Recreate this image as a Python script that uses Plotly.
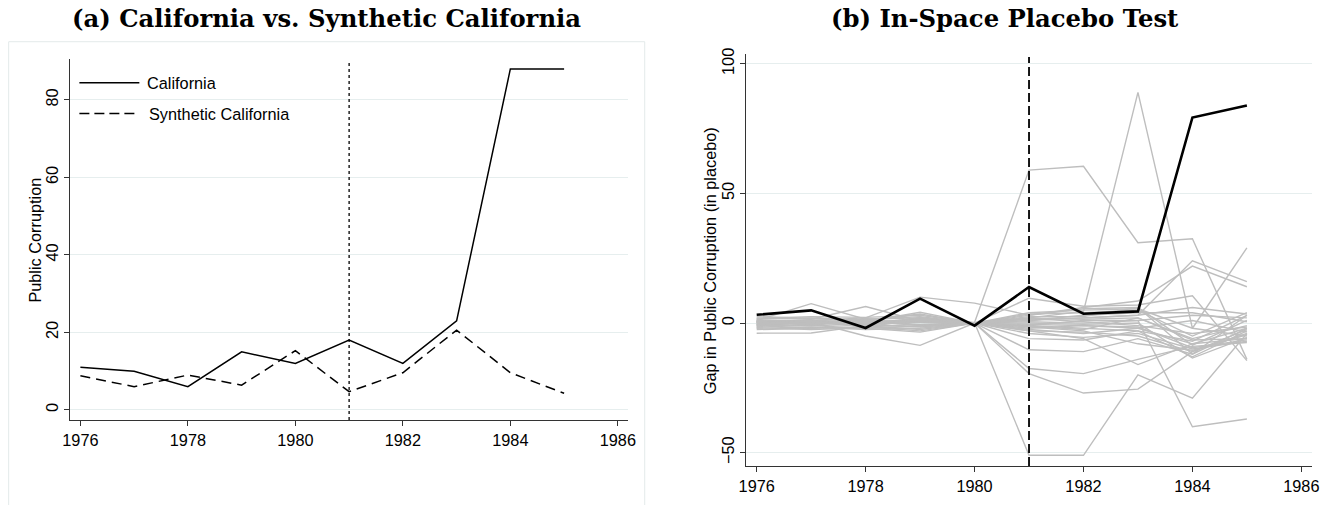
import plotly.graph_objects as go

# ---------------- data ----------------
years = [1976, 1977, 1978, 1979, 1980, 1981, 1982, 1983, 1984, 1985]
california = [11.0, 10.0, 6.0, 15.0, 12.0, 18.0, 12.0, 23.0, 88.0, 88.0]
synthetic_california = [8.8, 6.0, 9.0, 6.4, 15.3, 4.7, 9.6, 20.6, 9.6, 4.3]
california_gap = [3.2, 4.9, -1.9, 9.4, -1.0, 13.9, 3.6, 4.5, 79.3, 83.9]

placebo_gaps = [
    [0.5, 1.0, 0.3, 1.5, 0.2, 59.0, 60.5, 31.0, 32.5, -14.0],
    [-0.5, 0.8, -0.2, 0.5, 0.0, 2.0, 4.5, 89.0, -2.0, 29.0],
    [0.3, -0.5, 1.0, -1.0, 0.1, -51.0, -51.0, -20.0, -29.0, -4.0],
    [-1.0, 0.5, -0.8, 1.2, 0.0, -19.5, -27.0, -25.5, -11.0, -4.0],
    [0.8, -0.3, 0.6, -0.5, 0.0, -17.5, -19.5, -14.0, -9.0, -7.5],
    [-0.5, 0.2, -0.5, 0.8, 0.0, -10.3, -11.0, -6.0, -12.0, -2.0],
    [0.2, 0.6, -0.3, 0.4, 0.0, -1.0, 1.0, 1.0, -40.0, -37.0],
    [-3.9, -3.8, -1.0, -2.5, 0.0, 1.0, 2.0, 3.0, 24.0, 16.0],
    [1.0, 7.5, 1.5, 2.0, 0.0, 3.0, 6.0, 8.5, 22.0, 14.0],
    [2.0, 1.5, 6.4, 0.8, 0.0, 9.6, 6.5, 7.0, 10.5, -14.5],
    [0.5, 1.0, 2.0, 10.0, 7.7, 3.0, 5.5, 6.0, -12.0, 3.0],
    [-1.0, 0.5, -5.0, -8.6, 0.0, -3.0, -6.0, -16.0, -8.0, -2.0],
    [0.5, 0.3, 0.8, 0.5, 0.0, 1.5, 2.0, 3.0, 6.0, 3.5],
    [-0.5, -1.0, -0.5, -1.5, 0.0, -2.0, -1.0, -2.0, -8.0, -6.0],
    [1.5, 2.0, 1.0, 3.5, 0.0, 3.5, 4.0, 5.0, -5.0, 4.0],
    [-1.5, -1.0, -2.0, -3.5, 0.0, -4.0, -5.5, -4.0, -10.0, -7.0],
    [0.0, 0.5, 0.2, 1.0, 0.0, 0.5, 0.0, 1.0, 3.0, 2.0],
    [-2.0, -1.5, -2.5, -2.0, 0.0, -1.0, -2.0, -3.0, -13.0, -3.0],
    [1.0, 0.0, 1.5, 2.5, 0.0, 2.0, 1.5, 2.0, -6.0, -1.0],
    [-0.8, 0.2, -1.2, -0.5, 0.0, -0.5, -1.0, -1.5, -9.5, -6.5],
    [0.3, 1.2, 0.0, 1.8, 0.0, 1.0, 3.0, 4.0, 4.0, 0.5],
    [-1.2, -0.5, 1.8, -1.0, 0.0, -3.0, -3.5, -5.0, -11.0, -2.5],
    [2.5, 1.8, 0.5, 4.2, 0.0, 4.0, 5.0, 5.5, -2.0, -5.0],
    [-2.5, -2.0, -1.5, -3.0, 0.0, -6.0, -6.5, -3.0, -7.0, 3.0],
    [0.8, -0.8, 0.8, 0.3, 0.0, 0.0, -0.5, 0.0, -13.5, -5.5],
    [-0.3, 0.8, -1.5, 1.5, 0.0, 2.5, 2.5, 6.0, -8.5, 1.0],
    [1.8, 2.5, 2.2, 3.0, 0.0, -1.5, -3.0, -8.0, -10.5, -4.5],
    [0.0, -0.3, 0.5, -0.8, 0.0, -2.5, -4.0, -2.0, 1.0, -3.5],
    [1.2, 0.5, -0.8, 2.2, 0.0, 1.8, 0.5, -1.0, -4.0, -1.5],
    [-1.8, -2.5, -1.8, -1.2, 0.0, -1.2, -2.5, 2.0, -6.5, -6.0],
]

treatment_year = 1981
x_ticks = [1976, 1978, 1980, 1982, 1984, 1986]
left_y_ticks = [0, 20, 40, 60, 80]
right_y_ticks = [-50, 0, 50, 100]

# ---------------- layout constants ----------------
W, H = 1337, 505
GRID = "#E6EEEE"
AXIS = "#333333"
GRAY = "#BEBEBE"
SANS = "Liberation Sans, Arial, sans-serif"
SERIF = "DejaVu Serif, serif"

# page-offset compensation (target pixel -> figure pixel)
SC, OX, OY = 0.99, 7.7, 5.2


def px_x(p):
    return max(0.0, (p - OX) / SC) / W


def px_y(p):
    return 1 - (p - OY) / SC / H


fig = go.Figure()

# Left panel
fig.add_trace(go.Scatter(x=years, y=california, mode="lines", name="California",
                         line=dict(color="black", width=1.5), xaxis="x", yaxis="y",
                         showlegend=False))
fig.add_trace(go.Scatter(x=years, y=synthetic_california, mode="lines",
                         name="Synthetic California",
                         line=dict(color="black", width=1.5, dash="10px,6px"),
                         xaxis="x", yaxis="y", showlegend=False))

# Right panel
for i, g in enumerate(placebo_gaps):
    fig.add_trace(go.Scatter(x=years, y=g, mode="lines", name=f"placebo {i+1}",
                             line=dict(color=GRAY, width=1.4), xaxis="x2", yaxis="y2",
                             showlegend=False))
fig.add_trace(go.Scatter(x=years, y=california_gap, mode="lines", name="California gap",
                         line=dict(color="black", width=2.6), xaxis="x2", yaxis="y2",
                         showlegend=False))

axis_common = dict(showline=True, linecolor=AXIS, linewidth=1.3, ticks="outside",
                   ticklen=5, tickcolor=AXIS, tickwidth=1.2, zeroline=False,
                   tickfont=dict(family=SANS, size=16.3, color="black"))

fig.update_layout(
    width=W, height=H, autosize=False,
    margin=dict(l=0, r=0, t=0, b=0),
    paper_bgcolor="white", plot_bgcolor="white",
    showlegend=False,
    xaxis=dict(domain=[px_x(70), px_x(629)], range=[1975.81, 1986.19],
               tickvals=x_ticks, showgrid=False, anchor="y", **axis_common),
    yaxis=dict(domain=[px_y(420), px_y(58.3)], range=[-2.6, 90.55],
               tickvals=left_y_ticks, tickangle=-90, showgrid=True,
               gridcolor=GRID, gridwidth=1, anchor="x", **axis_common),
    xaxis2=dict(domain=[px_x(747.5), px_x(1314)], range=[1975.81, 1986.19],
                tickvals=x_ticks, showgrid=False, anchor="y2", **axis_common),
    yaxis2=dict(domain=[px_y(466), px_y(53)], range=[-55.1, 103.9],
                tickvals=right_y_ticks, tickangle=-90, showgrid=True,
                gridcolor=GRID, gridwidth=1, anchor="x2", **axis_common),
)

# treatment year lines
fig.add_shape(type="line", x0=treatment_year, x1=treatment_year, xref="x",
              y0=0, y1=0.99, yref="y domain",
              line=dict(color="black", width=1.3, dash="3px,3px"))
fig.add_shape(type="line", x0=treatment_year, x1=treatment_year, xref="x2",
              y0=0, y1=0.992, yref="y2 domain",
              line=dict(color="black", width=1.8, dash="9px,4px"))

# outer frame of left graph region
fig.add_shape(type="rect", xref="paper", yref="paper",
              x0=0.0005, x1=px_x(645.7), y0=-0.02, y1=px_y(41),
              line=dict(color="#E3EAEA", width=1), layer="below")

# legend (left panel)
fig.add_shape(type="line", xref="x domain", yref="y domain",
              x0=0.0165, x1=0.124, y0=0.9345, y1=0.9345,
              line=dict(color="black", width=1.5))
fig.add_shape(type="line", xref="x domain", yref="y domain",
              x0=0.0165, x1=0.124, y0=0.8488, y1=0.8488,
              line=dict(color="black", width=1.5, dash="10px,5px"))
fig.add_annotation(text="California", xref="x domain", yref="y domain",
                   x=0.135, y=0.9345, xanchor="left", yanchor="middle",
                   showarrow=False, font=dict(family=SANS, size=16.3, color="black"))
fig.add_annotation(text="Synthetic California", xref="x domain", yref="y domain",
                   x=0.137, y=0.8488, xanchor="left", yanchor="middle",
                   showarrow=False, font=dict(family=SANS, size=16.3, color="black"))

# panel titles
fig.add_annotation(text="<b>(a) California vs. Synthetic California</b>",
                   xref="paper", yref="paper", x=px_x(326.5), y=px_y(18),
                   xanchor="center", yanchor="middle", showarrow=False,
                   font=dict(family=SERIF, size=24.3, color="black"))
fig.add_annotation(text="<b>(b) In-Space Placebo Test</b>",
                   xref="paper", yref="paper", x=px_x(1007), y=px_y(18),
                   xanchor="center", yanchor="middle", showarrow=False,
                   font=dict(family=SERIF, size=24.3, color="black"))

# y-axis titles
fig.add_annotation(text="Public Corruption", xref="paper", yref="paper",
                   x=px_x(35), y=px_y(240), xanchor="center", yanchor="middle",
                   textangle=-90, showarrow=False,
                   font=dict(family=SANS, size=16.3, color="black"))
fig.add_annotation(text="Gap in Public Corruption (in placebo)", xref="paper", yref="paper",
                   x=px_x(711), y=px_y(260), xanchor="center", yanchor="middle",
                   textangle=-90, showarrow=False,
                   font=dict(family=SANS, size=16.3, color="black"))

fig.write_html(
    "out.html",
    config={"displayModeBar": False},
    post_script=("document.body.style.margin='0';"
                 "document.body.style.padding='0';"
                 "document.documentElement.style.overflow='hidden';"),
)
